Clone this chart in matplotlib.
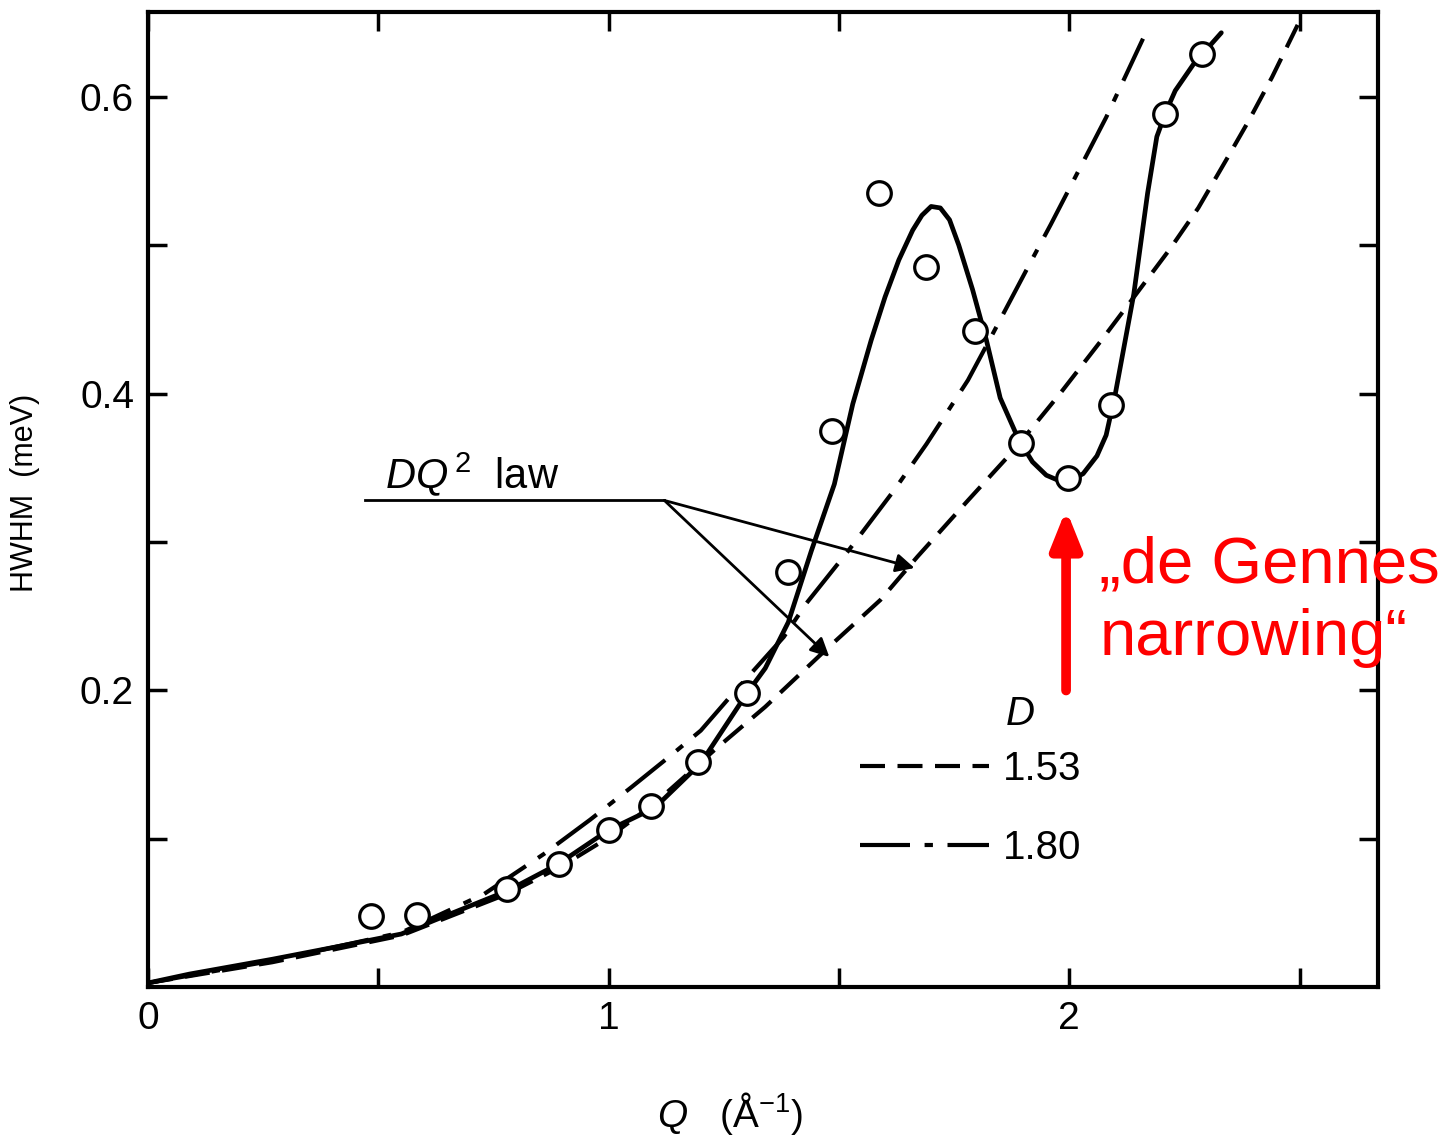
import matplotlib
matplotlib.use("Agg")
import matplotlib.pyplot as plt

plt.rcParams['font.family'] = ['Liberation Sans', 'DejaVu Sans']
plt.rcParams['mathtext.fontset'] = 'custom'
plt.rcParams['mathtext.rm'] = 'Liberation Sans'
plt.rcParams['mathtext.it'] = 'Liberation Sans:italic'

# measured points (open circles)
Q = [0.485, 0.583, 0.78, 0.892, 1.0, 1.093, 1.195, 1.30, 1.39, 1.484,
     1.586, 1.688, 1.796, 1.896, 1.998, 2.091, 2.208, 2.289]
HWHM = [0.048, 0.049, 0.066, 0.083, 0.106, 0.122, 0.152, 0.198, 0.280, 0.375,
        0.535, 0.485, 0.442, 0.367, 0.343, 0.392, 0.588, 0.629]

# solid guide line through the data
fit_q = [0.0, 0.09, 0.27, 0.42, 0.55, 0.62, 0.78, 0.89, 1.0, 1.10, 1.20, 1.30,
         1.34, 1.39, 1.44, 1.49, 1.53, 1.57, 1.60, 1.63, 1.66, 1.68, 1.70,
         1.72, 1.74, 1.76, 1.79, 1.82, 1.85, 1.89, 1.92, 1.95, 1.98, 2.0,
         2.03, 2.06, 2.08, 2.10, 2.14, 2.17, 2.19, 2.21, 2.23, 2.27, 2.33]
fit_y = [0.003, 0.009, 0.019, 0.028, 0.036, 0.045, 0.065, 0.083, 0.106, 0.121,
         0.151, 0.198, 0.215, 0.246, 0.294, 0.339, 0.393, 0.436, 0.465, 0.490,
         0.510, 0.520, 0.526, 0.525, 0.517, 0.500, 0.470, 0.436, 0.397, 0.369,
         0.354, 0.345, 0.341, 0.341, 0.346, 0.358, 0.372, 0.400, 0.467, 0.535,
         0.573, 0.590, 0.604, 0.622, 0.643]

# DQ^2 law, D = 1.53 (dashed)
d153_q = [0.0, 0.27, 0.55, 0.78, 0.9, 1.0, 1.1, 1.23, 1.34, 1.47, 1.59, 1.67,
          1.78, 1.88, 1.98, 2.07, 2.15, 2.22, 2.28, 2.34, 2.39, 2.44, 2.50]
d153_y = [0.003, 0.017, 0.035, 0.063, 0.082, 0.101, 0.124, 0.160, 0.189,
          0.227, 0.261, 0.290, 0.328, 0.362, 0.400, 0.436, 0.469, 0.498,
          0.525, 0.557, 0.584, 0.613, 0.651]

# DQ^2 law, D = 1.80 (dash-dot)
d180_q = [0.0, 0.27, 0.55, 0.73, 0.86, 0.96, 1.05, 1.13, 1.20, 1.27, 1.38,
          1.43, 1.52, 1.62, 1.69, 1.78, 1.83, 1.91, 1.96, 2.04, 2.08, 2.16]
d180_y = [0.003, 0.018, 0.037, 0.063, 0.090, 0.113, 0.135, 0.155, 0.173,
          0.198, 0.236, 0.259, 0.294, 0.335, 0.366, 0.409, 0.438, 0.485,
          0.514, 0.562, 0.586, 0.639]

D_labels = ['1.53', '1.80']

fig = plt.figure(figsize=(14.45, 11.38), dpi=100)
ax = fig.add_axes([0.1024, 0.1323, 0.8512, 0.8572])

dash = (0, (6, 3))
dashdot = (0, (12, 3.5, 2, 3.5))

ax.plot(fit_q, fit_y, color='black', lw=3.4, solid_joinstyle='round',
        solid_capstyle='round')
l1, = ax.plot(d153_q, d153_y, color='black', lw=3, linestyle=dash)
l2, = ax.plot(d180_q, d180_y, color='black', lw=3, linestyle=dashdot)
ax.plot(Q, HWHM, 'o', ms=17, mfc='white', mec='black', mew=2.3, zorder=5)

ax.set_xlim(0, 2.67)
ax.set_ylim(0, 0.657)
ax.set_xticks([0, 0.5, 1, 1.5, 2, 2.5])
ax.set_xticklabels(['0', '', '1', '', '2', ''])
ax.set_yticks([0.1, 0.2, 0.3, 0.4, 0.5, 0.6])
ax.set_yticklabels(['', '0.2', '', '0.4', '', '0.6'])
ax.tick_params(direction='in', length=14, width=2.5, top=True, right=True,
               labelsize=28, pad=10)
for s in ax.spines.values():
    s.set_linewidth(3)

ax.set_ylabel('HWHM  (meV)', fontsize=22)
ax.yaxis.set_label_coords(-0.088, 0.507)
ax.set_xlabel(r'$Q$   (Å$^{-1}$)', fontsize=28)
ax.xaxis.set_label_coords(0.473, -0.105)

# DQ^2 law annotation
ax.text(0.515, 0.336, r'$DQ^{\,2}$  law', fontsize=30, va='baseline')
ax.plot([0.471, 1.121], [0.328, 0.328], color='black', lw=2)
for tip in [(1.664, 0.2825), (1.479, 0.2226)]:
    ax.annotate('', xy=tip, xytext=(1.121, 0.328),
                arrowprops=dict(arrowstyle='-|>', lw=2, color='black',
                                mutation_scale=28, shrinkA=0, shrinkB=0))

# legend
ax.text(1.86, 0.177, r'$D$', fontsize=29, va='baseline')
ax.legend([l1, l2], D_labels, loc='upper left', bbox_to_anchor=(0.579, 0.243),
          frameon=False, fontsize=29, handlelength=3.2, handletextpad=0.35,
          labelspacing=1.0, borderpad=0, borderaxespad=0)

# red annotation
ax.annotate('', xy=(1.993, 0.322), xytext=(1.993, 0.200),
            arrowprops=dict(arrowstyle='-|>,head_width=0.3,head_length=0.75',
                            lw=7, color='red', mutation_scale=30,
                            shrinkA=0, shrinkB=0))
ax.text(2.065, 0.273, '\u201ede Gennes', color='red', fontsize=47,
        va='baseline')
ax.text(2.065, 0.224, 'narrowing\u201c', color='red', fontsize=47,
        va='baseline')

fig.savefig('out.png', dpi=100)
